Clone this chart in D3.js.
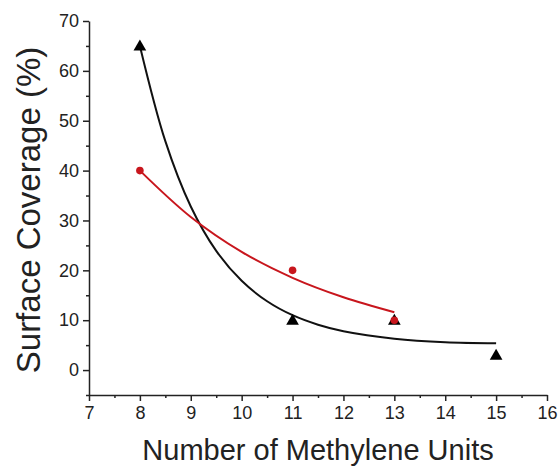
<!DOCTYPE html>
<html>
<head>
<meta charset="utf-8">
<script src="https://cdn.jsdelivr.net/npm/d3@7"></script>
<style>
  body { margin: 0; background: #fff; }
  text { font-family: "Liberation Sans", Arial, sans-serif; fill: #222; }
</style>
</head>
<body>
<svg id="chart" width="559" height="468"></svg>
<script>
// measured points
const blackX = [8, 11, 13, 15];
const blackY = [65, 10, 10, 3];
const redX = [8, 11, 13];
const redY = [40, 20, 10];

// fitted curves
const blackFitX = [8, 8.5, 9, 9.5, 10, 10.5, 11, 11.5, 12, 13, 14, 15];
const blackFitY = [65, 45.9, 32.8, 23.9, 17.9, 13.8, 11, 9.1, 7.8, 6.3, 5.6, 5.4];
const redFitX = [8, 9, 10, 11, 12, 13];
const redFitY = [40, 30.7, 23.7, 18.5, 14.6, 11.6];

const xTicks = [7, 8, 9, 10, 11, 12, 13, 14, 15, 16];
const yTicks = [0, 10, 20, 30, 40, 50, 60, 70];

const svg = d3.select("#chart");

// axis frame, y=-5 sits on the x axis line
const x = d3.scaleLinear().domain([7, 16]).range([89, 547]);
const y = d3.scaleLinear().domain([-5, 70]).range([395, 21]);

const red = "#c8161d";

// minor ticks
const xMinor = d3.range(7.5, 16, 1);
const yMinor = d3.range(-5, 70, 10);

svg.append("g")
  .attr("transform", `translate(0,${y(-5)})`)
  .call(d3.axisBottom(x).tickValues(xMinor).tickSize(3).tickFormat(""))
  .call(g => g.select(".domain").remove());
svg.append("g")
  .attr("transform", `translate(${x(7)},0)`)
  .call(d3.axisLeft(y).tickValues(yMinor).tickSize(3).tickFormat(""))
  .call(g => g.select(".domain").remove());

const xAxis = svg.append("g")
  .attr("transform", `translate(0,${y(-5)})`)
  .call(d3.axisBottom(x).tickValues(xTicks).tickSize(6).tickSizeOuter(0).tickPadding(5).tickFormat(d3.format("d")));
const yAxis = svg.append("g")
  .attr("transform", `translate(${x(7)},0)`)
  .call(d3.axisLeft(y).tickValues(yTicks).tickSize(6).tickSizeOuter(0).tickPadding(4).tickFormat(d3.format("d")));

svg.selectAll(".tick line, .domain").attr("stroke", "#222").attr("stroke-width", 1.5);
[xAxis, yAxis].forEach(a => a.selectAll(".tick text")
  .style("font-family", "Liberation Sans, Arial, sans-serif")
  .style("font-size", "18px").attr("fill", "#222"));

// fit lines
const line = d3.line().x(d => x(d[0])).y(d => y(d[1])).curve(d3.curveCatmullRom);

svg.append("path")
  .datum(blackFitX.map((v, i) => [v, blackFitY[i]]))
  .attr("d", line).attr("fill", "none").attr("stroke", "#111").attr("stroke-width", 2);
svg.append("path")
  .datum(redFitX.map((v, i) => [v, redFitY[i]]))
  .attr("d", line).attr("fill", "none").attr("stroke", red).attr("stroke-width", 2);

// markers
const tri = d3.symbol().type(d3.symbolTriangle).size(70);
svg.selectAll("path.tri")
  .data(blackX.map((v, i) => [v, blackY[i]]))
  .enter().append("path")
  .attr("class", "tri")
  .attr("d", tri)
  .attr("transform", d => `translate(${x(d[0])},${y(d[1]) + 1})`)
  .attr("fill", "#000");

svg.selectAll("circle.red")
  .data(redX.map((v, i) => [v, redY[i]]))
  .enter().append("circle")
  .attr("class", "red")
  .attr("cx", d => x(d[0])).attr("cy", d => y(d[1]))
  .attr("r", 3.8)
  .attr("fill", red);

// axis titles
svg.append("text")
  .attr("x", (x(7) + x(16)) / 2).attr("y", 460)
  .attr("text-anchor", "middle")
  .style("font-size", "29px")
  .text("Number of Methylene Units");
svg.append("text")
  .attr("transform", `translate(40,210) rotate(-90)`)
  .attr("text-anchor", "middle")
  .style("font-size", "33px")
  .text("Surface Coverage (%)");
</script>
</body>
</html>
